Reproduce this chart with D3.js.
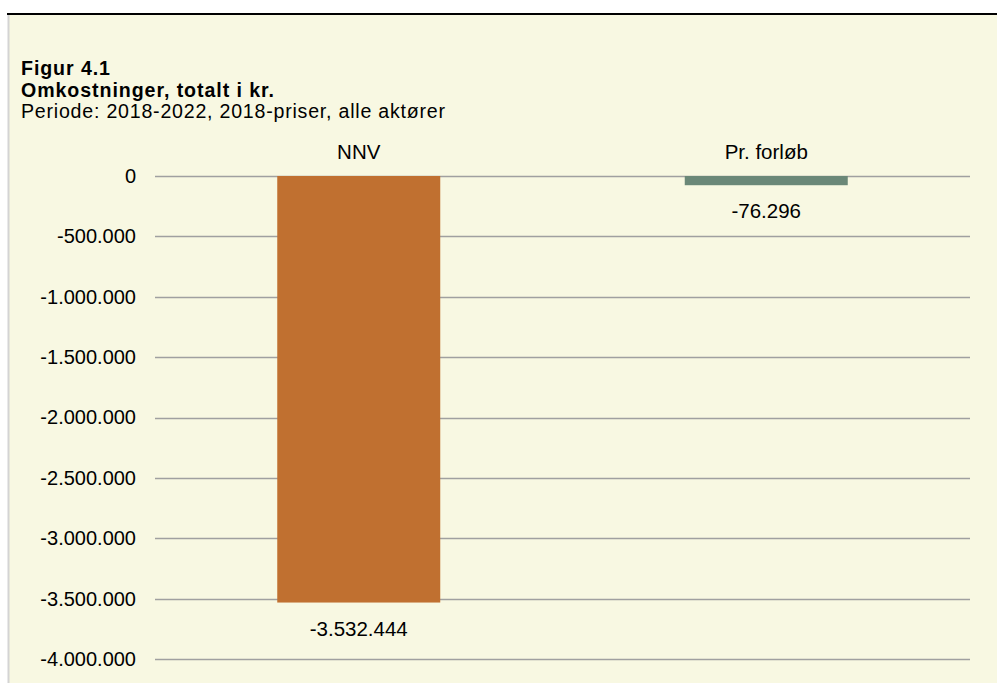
<!DOCTYPE html>
<html><head><meta charset="utf-8">
<script src="https://cdn.jsdelivr.net/npm/d3@7"></script>
<style>
html,body{margin:0;padding:0;background:#fff;}
svg{display:block;font-family:"Liberation Sans",Arial,sans-serif;}
</style></head>
<body>
<svg id="c" width="997" height="683"></svg>
<script>
const categories = ["NNV", "Pr. forløb"];
const values = [-3532444, -76296];
const valueLabels = ["-3.532.444", "-76.296"];
const tickValues = [0, -500000, -1000000, -1500000, -2000000, -2500000, -3000000, -3500000, -4000000];
const tickLabels = ["0", "-500.000", "-1.000.000", "-1.500.000", "-2.000.000", "-2.500.000", "-3.000.000", "-3.500.000", "-4.000.000"];
const titleLines = ["Figur 4.1", "Omkostninger, totalt i kr.", "Periode: 2018-2022, 2018-priser, alle aktører"];
const colors = ["#C07030", "#6B8878"];

const svg = d3.select("#c");
// panel
svg.append("rect").attr("x", 8).attr("y", 14).attr("width", 989).attr("height", 669).attr("fill", "#F8F8E2");
svg.append("line").attr("x1", 8.5).attr("x2", 8.5).attr("y1", 14).attr("y2", 683).attr("stroke", "#d4d4d4").attr("stroke-width", 2);
svg.append("line").attr("x1", 7).attr("x2", 997).attr("y1", 14).attr("y2", 14).attr("stroke", "#000").attr("stroke-width", 2);

// titles
const titleY = [75, 96.5, 118];
const titleW = [89, 253, 424];
svg.append("g").selectAll("text").data(titleLines).join("text")
  .attr("x", 21).attr("y", (d, i) => titleY[i])
  .attr("font-size", 19.6)
  .attr("font-weight", (d, i) => i < 2 ? "bold" : "normal")
  .attr("textLength", (d, i) => titleW[i]).attr("lengthAdjust", "spacing")
  .attr("fill", "#000").text(d => d);

const x = d3.scaleBand().domain(categories).range([155, 970]).paddingInner(0.6).paddingOuter(0.3);
const y = d3.scaleLinear().domain([0, -4000000]).range([176, 659]);

// gridlines
svg.append("g").selectAll("line").data(tickValues).join("line")
  .attr("x1", 155).attr("x2", 970)
  .attr("y1", d => Math.round(y(d)) + 0.5).attr("y2", d => Math.round(y(d)) + 0.5)
  .attr("stroke", "#A0A0A0").attr("stroke-width", 1.3);

// axis labels
const yAxis = d3.axisLeft(y).tickValues(tickValues).tickSize(0).tickPadding(0)
  .tickFormat((d, i) => tickLabels[i]);
const ga = svg.append("g").attr("transform", "translate(136,0)").call(yAxis);
ga.select(".domain").remove();
ga.selectAll("text").attr("font-size", 20).attr("fill", "#000").attr("font-family", "Liberation Sans, Arial, sans-serif");

// bars
svg.append("g").selectAll("rect").data(values).join("rect")
  .attr("x", (d, i) => x(categories[i]))
  .attr("width", x.bandwidth())
  .attr("y", y(0))
  .attr("height", d => y(d) - y(0))
  .attr("fill", (d, i) => colors[i]);

// category labels
svg.append("g").selectAll("text").data(categories).join("text")
  .attr("x", d => x(d) + x.bandwidth() / 2).attr("y", 159)
  .attr("text-anchor", "middle").attr("font-size", 20.5).attr("fill", "#000").text(d => d);

// value labels
svg.append("g").selectAll("text").data(values).join("text")
  .attr("x", (d, i) => x(categories[i]) + x.bandwidth() / 2)
  .attr("y", d => y(d) + 33)
  .attr("text-anchor", "middle").attr("font-size", 20.5).attr("fill", "#000").text((d, i) => valueLabels[i]);
</script>
</body></html>
